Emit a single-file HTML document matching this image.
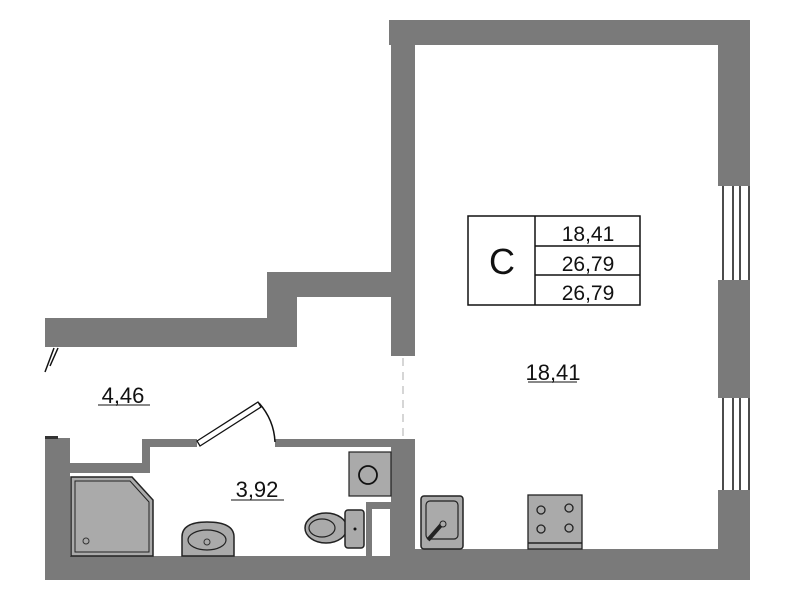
<!DOCTYPE html>
<html><head><meta charset="utf-8"><style>
html,body{margin:0;padding:0;background:#fff;}
svg{display:block;}
text{font-family:"Liberation Sans",sans-serif;fill:#111;}
</style></head><body>
<svg width="799" height="600" viewBox="0 0 799 600" xmlns="http://www.w3.org/2000/svg">
<rect width="799" height="600" fill="#fff"/>
<g fill="#7a7a7a">
<rect x="389" y="20" width="361" height="25"/>
<rect x="391" y="20" width="24" height="336"/>
<rect x="718" y="20" width="32" height="166"/>
<rect x="718" y="280" width="32" height="118"/>
<rect x="718" y="490" width="32" height="90"/>
<rect x="391" y="549" width="359" height="31"/>
<rect x="45" y="318" width="252" height="29"/>
<rect x="267" y="272" width="30" height="75"/>
<rect x="267" y="272" width="148" height="25"/>
<rect x="45" y="438" width="25" height="142"/>
<rect x="45" y="556" width="350" height="24"/>
<rect x="391" y="439" width="24" height="141"/>
<rect x="70" y="463" width="80" height="10"/>
<rect x="142" y="439" width="8" height="34"/>
<rect x="142" y="439" width="55" height="8"/>
<rect x="275" y="439" width="120" height="8"/>
<rect x="366" y="502" width="26" height="56"/>
</g>
<rect x="45" y="436" width="13" height="3" fill="#333"/>
<rect x="372" y="509" width="18" height="47" fill="#fff"/>
<g stroke="#111" stroke-width="1.5">
<line x1="723" y1="186" x2="723" y2="280"/><line x1="733" y1="186" x2="733" y2="280"/><line x1="740" y1="186" x2="740" y2="280"/><line x1="749" y1="186" x2="749" y2="280"/>
<line x1="723" y1="398" x2="723" y2="490"/><line x1="733" y1="398" x2="733" y2="490"/><line x1="740" y1="398" x2="740" y2="490"/><line x1="749" y1="398" x2="749" y2="490"/>
</g>
<line x1="403" y1="358" x2="403" y2="438" stroke="#bbb" stroke-width="1.2" stroke-dasharray="8,6"/>
<g stroke="#111" stroke-width="1.5"><line x1="45" y1="372" x2="54" y2="348"/><line x1="50" y1="366" x2="58" y2="348"/></g>
<polygon points="197,441 258,402 261,407 200,446" fill="#fff" stroke="#111" stroke-width="1.3"/>
<path d="M259,403 Q274,420 275,442" fill="none" stroke="#111" stroke-width="1.5"/>
<g fill="none" stroke="#111" stroke-width="1.5">
<rect x="468" y="216" width="172" height="89"/>
<line x1="535" y1="216" x2="535" y2="305"/>
<line x1="535" y1="246" x2="640" y2="246"/>
<line x1="535" y1="275" x2="640" y2="275"/>
</g>
<text x="502" y="274" font-size="36" text-anchor="middle">С</text>
<text x="588" y="241" font-size="21" text-anchor="middle">18,41</text>
<text x="588" y="271" font-size="21" text-anchor="middle">26,79</text>
<text x="588" y="300" font-size="21" text-anchor="middle">26,79</text>
<text x="123" y="403" font-size="22" text-anchor="middle">4,46</text>
<line x1="98" y1="405" x2="150" y2="405" stroke="#111" stroke-width="1"/>
<text x="553" y="380" font-size="22" text-anchor="middle">18,41</text>
<line x1="528" y1="382" x2="577" y2="382" stroke="#111" stroke-width="1"/>
<text x="257" y="497" font-size="22" text-anchor="middle">3,92</text>
<line x1="231" y1="500" x2="284" y2="500" stroke="#111" stroke-width="1"/>
<path d="M71,477 H132 L153,500 V556 H71 Z" fill="#aaa" stroke="#222" stroke-width="1.5"/>
<path d="M75,481 H130 L149,502 V552 H75 Z" fill="none" stroke="#222" stroke-width="1"/>
<circle cx="86" cy="541" r="3" fill="none" stroke="#333"/>
<path d="M182,556 V537 Q182,522 207,522 Q234,522 234,537 V556 Z" fill="#aaa" stroke="#222" stroke-width="1.5"/>
<ellipse cx="207" cy="540" rx="19" ry="10" fill="none" stroke="#222" stroke-width="1.2"/>
<circle cx="207" cy="542" r="3" fill="none" stroke="#333"/>
<rect x="349" y="452" width="42" height="44" fill="#aaa" stroke="#222" stroke-width="1.2"/>
<circle cx="368" cy="475" r="9" fill="none" stroke="#111" stroke-width="1.8"/>
<ellipse cx="326" cy="528" rx="21" ry="15" fill="#aaa" stroke="#222" stroke-width="1.5"/>
<ellipse cx="322" cy="528" rx="13" ry="9" fill="none" stroke="#222" stroke-width="1.2"/>
<rect x="345" y="510" width="19" height="38" rx="3" fill="#aaa" stroke="#222" stroke-width="1.5"/>
<circle cx="355" cy="529" r="1.5" fill="#111"/>
<rect x="421" y="496" width="42" height="53" rx="3" fill="#aaa" stroke="#222" stroke-width="1.5"/>
<rect x="426" y="501" width="32" height="38" rx="4" fill="none" stroke="#222" stroke-width="1.2"/>
<line x1="428" y1="540" x2="442" y2="524" stroke="#222" stroke-width="4"/>
<circle cx="443" cy="524" r="3" fill="#aaa" stroke="#222"/>
<rect x="528" y="495" width="54" height="54" fill="#aaa" stroke="#222" stroke-width="1.3"/>
<line x1="528" y1="543" x2="582" y2="543" stroke="#222" stroke-width="1.5"/>
<g fill="none" stroke="#222" stroke-width="1.3">
<circle cx="541" cy="510" r="4"/><circle cx="569" cy="508" r="4"/><circle cx="541" cy="529" r="4"/><circle cx="569" cy="528" r="4"/>
</g>
</svg>
</body></html>
